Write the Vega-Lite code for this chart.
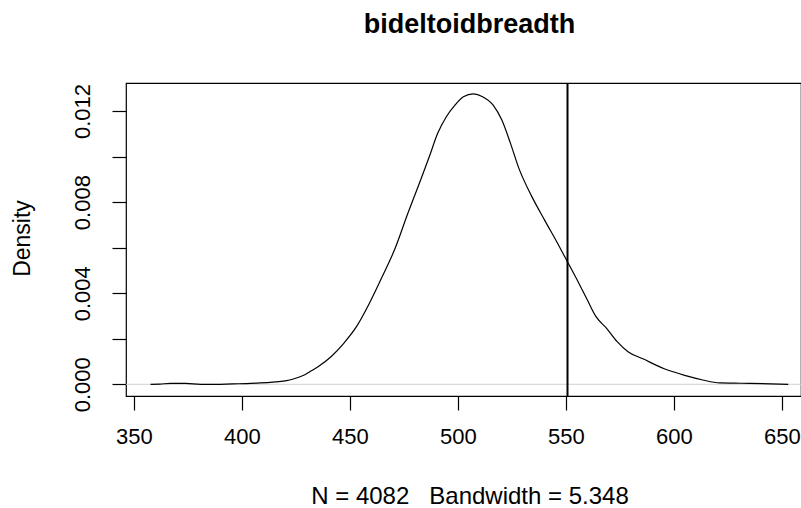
{
  "$schema": "https://vega.github.io/schema/vega-lite/v6.json",
  "width": 675,
  "height": 313,
  "autosize": {"type": "none"},
  "padding": {"left": 126, "top": 83, "right": 0, "bottom": 112},
  "background": "white",
  "title": {
    "text": "bideltoidbreadth",
    "font": "Liberation Sans",
    "fontSize": 27,
    "fontWeight": "bold",
    "color": "black",
    "anchor": "middle",
    "frame": "group",
    "baseline": "alphabetic",
    "offset": 22,
    "dx": 6
  },
  "config": {
    "view": {"stroke": "black", "strokeWidth": 1.2},
    "axis": {
      "domain": false,
      "grid": false,
      "tickColor": "black",
      "tickWidth": 1.2,
      "tickSize": 14,
      "labelFont": "Liberation Sans",
      "labelFontSize": 22,
      "labelColor": "black",
      "titleFont": "Liberation Sans",
      "titleFontSize": 23,
      "titleFontWeight": "normal",
      "titleColor": "black"
    }
  },
  "layer": [
    {
      "data": {"values": [{"zero": 0}]},
      "mark": {"type": "rule", "color": "#d0d0d0", "strokeWidth": 1},
      "encoding": {
        "y": {"field": "zero", "type": "quantitative", "scale": {"domain": [-0.000514, 0.01323], "nice": false, "zero": false}}
      }
    },
    {
      "data": {
        "values": [
          {"x": 357.8, "y": 0.0},
          {"x": 362.0, "y": 0.00001},
          {"x": 367.1, "y": 0.00004},
          {"x": 374.0, "y": 0.00004},
          {"x": 380.9, "y": 0.0},
          {"x": 388.0, "y": 0.0},
          {"x": 395.8, "y": 0.00002},
          {"x": 402.0, "y": 0.00003},
          {"x": 408.6, "y": 0.00006},
          {"x": 415.5, "y": 0.00011},
          {"x": 420.8, "y": 0.00016},
          {"x": 423.5, "y": 0.00022},
          {"x": 427.0, "y": 0.00033},
          {"x": 429.4, "y": 0.00043},
          {"x": 432.0, "y": 0.00058},
          {"x": 435.3, "y": 0.00077},
          {"x": 441.3, "y": 0.00121},
          {"x": 447.2, "y": 0.0018},
          {"x": 453.1, "y": 0.00253},
          {"x": 459.1, "y": 0.00356},
          {"x": 465.0, "y": 0.00472},
          {"x": 471.0, "y": 0.00597},
          {"x": 476.9, "y": 0.00751},
          {"x": 482.8, "y": 0.00897},
          {"x": 486.8, "y": 0.00999},
          {"x": 490.7, "y": 0.01102},
          {"x": 494.7, "y": 0.01175},
          {"x": 498.7, "y": 0.01226},
          {"x": 502.6, "y": 0.01263},
          {"x": 507.2, "y": 0.01275},
          {"x": 511.5, "y": 0.01263},
          {"x": 516.4, "y": 0.01226},
          {"x": 520.4, "y": 0.0116},
          {"x": 524.4, "y": 0.01058},
          {"x": 528.3, "y": 0.00948},
          {"x": 534.3, "y": 0.00824},
          {"x": 540.2, "y": 0.00721},
          {"x": 546.2, "y": 0.00619},
          {"x": 550.1, "y": 0.0055},
          {"x": 556.1, "y": 0.00443},
          {"x": 560.0, "y": 0.0037},
          {"x": 564.0, "y": 0.00297},
          {"x": 568.9, "y": 0.00246},
          {"x": 573.8, "y": 0.00187},
          {"x": 578.8, "y": 0.00143},
          {"x": 585.7, "y": 0.00112},
          {"x": 595.6, "y": 0.00068},
          {"x": 605.5, "y": 0.00038},
          {"x": 613.4, "y": 0.00019},
          {"x": 621.3, "y": 0.00006},
          {"x": 628.0, "y": 0.00005},
          {"x": 635.2, "y": 0.00004},
          {"x": 645.0, "y": 0.00002},
          {"x": 653.0, "y": 0.0}
        ]
      },
      "mark": {"type": "line", "color": "black", "strokeWidth": 1.2, "interpolate": "monotone"},
      "encoding": {
        "x": {
          "field": "x", "type": "quantitative",
          "scale": {"domain": [346.4, 658.9], "nice": false, "zero": false},
          "axis": {
            "values": [350, 400, 450, 500, 550, 600, 650],
            "labelPadding": 16,
            "labelFlush": false,
            "labelOverlap": false,
            "title": "N = 4082\u00a0\u00a0\u00a0Bandwidth = 5.348",
            "titleFontSize": 24,
            "titleX": 343.5,
            "titleY": 107,
            "titleBaseline": "alphabetic",
            "titleAnchor": null
          }
        },
        "y": {
          "field": "y", "type": "quantitative",
          "scale": {"domain": [-0.000514, 0.01323], "nice": false, "zero": false},
          "axis": {
            "values": [0, 0.002, 0.004, 0.006, 0.008, 0.01, 0.012],
            "labelExpr": "round(datum.value*1000) % 4 == 0 ? format(datum.value, '.3f') : ''",
            "labelAngle": -90,
            "labelAlign": "center",
            "labelBaseline": "alphabetic",
            "labelPadding": 23,
            "labelFlush": false,
            "labelOverlap": false,
            "title": "Density",
            "titleAngle": -90,
            "titleX": -97,
            "titleY": 155,
            "titleAlign": "center",
            "titleBaseline": "alphabetic"
          }
        }
      }
    },
    {
      "data": {"values": [{"vline": 550.8}]},
      "mark": {"type": "rule", "color": "black", "strokeWidth": 2},
      "encoding": {
        "x": {"field": "vline", "type": "quantitative"}
      }
    }
  ]
}
